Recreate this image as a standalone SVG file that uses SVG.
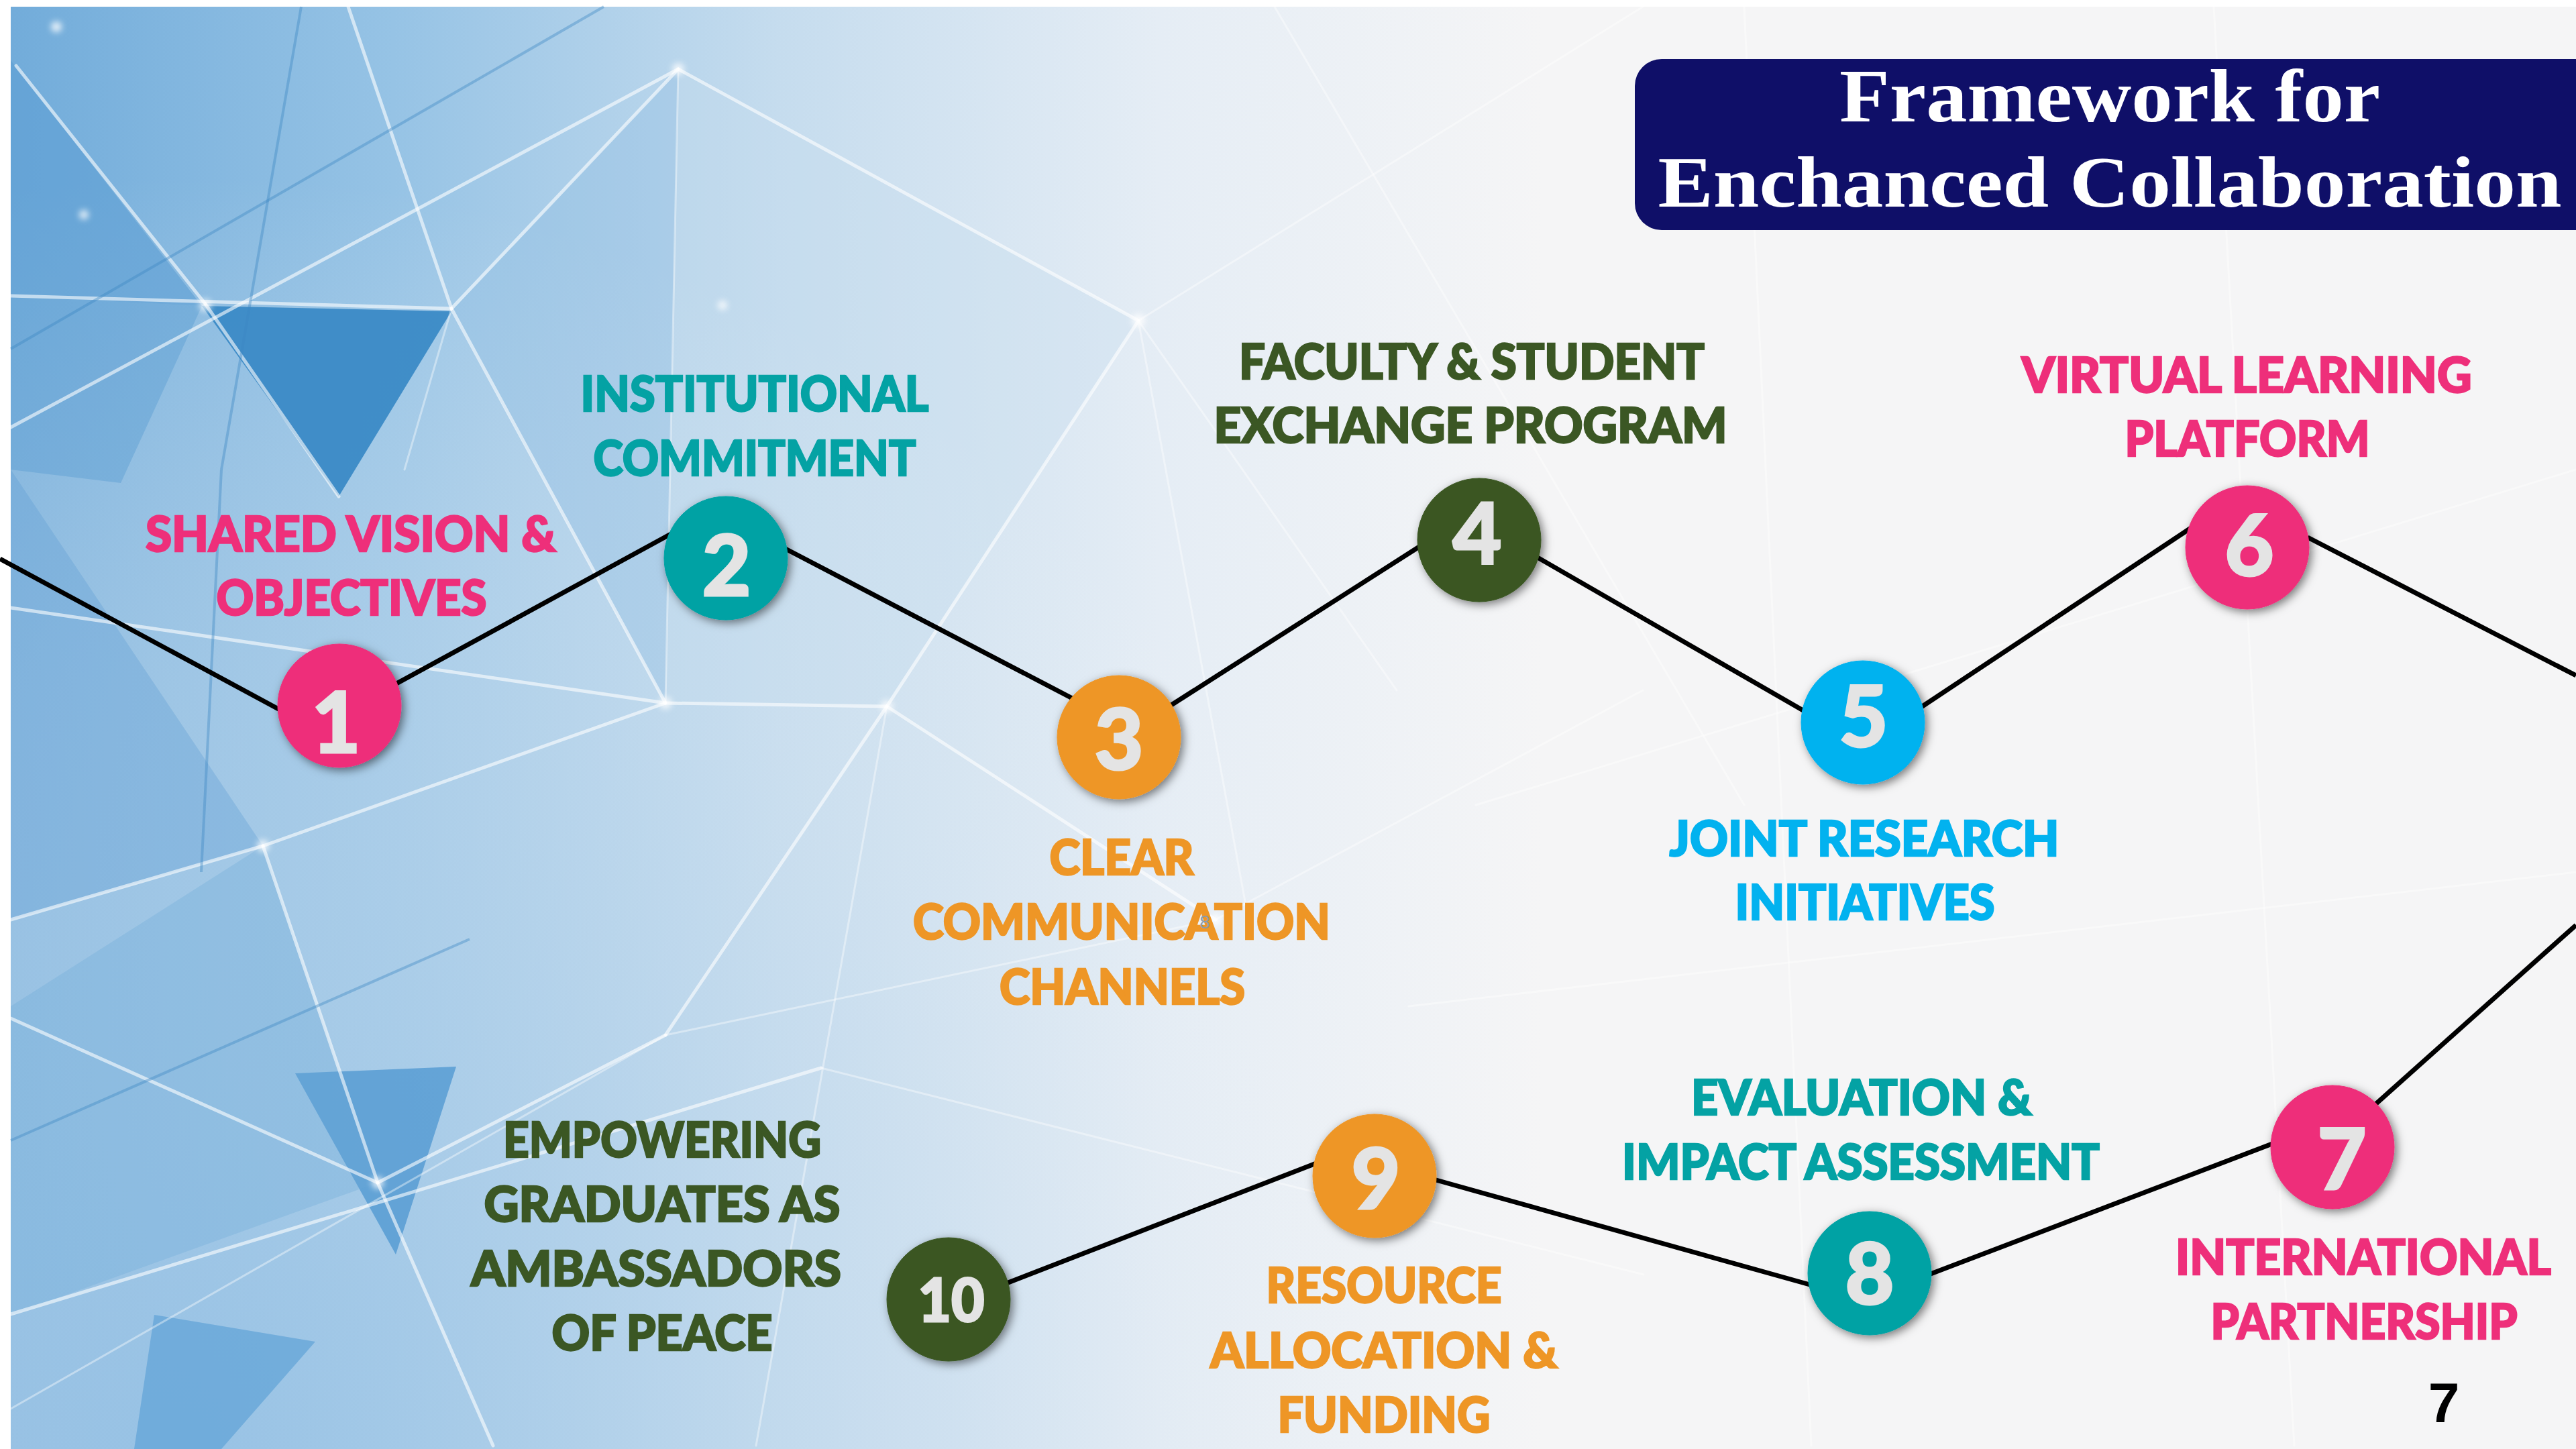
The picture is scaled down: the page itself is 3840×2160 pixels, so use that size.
<svg xmlns="http://www.w3.org/2000/svg" width="3840" height="2160" viewBox="0 0 3840 2160">
<defs>
<linearGradient id="bgH" x1="16" y1="0" x2="2300" y2="0" gradientUnits="userSpaceOnUse">
<stop offset="0" stop-color="#72ACDA"/>
<stop offset="0.25" stop-color="#96C3E5"/>
<stop offset="0.5" stop-color="#C5DCEE"/>
<stop offset="0.75" stop-color="#E5EDF5"/>
<stop offset="1" stop-color="#F5F5F6"/>
</linearGradient>
<radialGradient id="bgB" cx="300" cy="2160" r="1900" gradientUnits="userSpaceOnUse">
<stop offset="0" stop-color="#9DC5E6" stop-opacity="0.8"/>
<stop offset="0.6" stop-color="#C9DDEE" stop-opacity="0.4"/>
<stop offset="1" stop-color="#F5F5F6" stop-opacity="0"/>
</radialGradient>
<filter id="sh" x="-30%" y="-30%" width="160%" height="160%">
<feDropShadow dx="4" dy="4" stdDeviation="7" flood-color="#000" flood-opacity="0.5"/>
</filter>
<filter id="glow" x="-100%" y="-100%" width="300%" height="300%"><feGaussianBlur stdDeviation="5"/></filter>
<style>
.wl{fill:none;stroke:#fff;stroke-width:5;stroke-opacity:.6;stroke-linecap:round}
.wt{fill:none;stroke:#fff;stroke-width:3;stroke-opacity:.4;stroke-linecap:round}
.bl{fill:none;stroke:#3C87C4;stroke-width:4;stroke-opacity:.4}
.con{fill:none;stroke:#000;stroke-width:7}
.num{font-family:Lato,'Liberation Sans',sans-serif;font-weight:900;fill:#E4E4E4;stroke:#E4E4E4;stroke-width:3;text-anchor:middle;font-size:126px}
.lbl{font-family:Lato,'Liberation Sans',sans-serif;font-weight:900;font-size:72px;text-anchor:middle;stroke-width:2.5}
.title{font-family:'Liberation Serif',serif;font-weight:700;fill:#fff;text-anchor:middle}
.dot{fill:#fff;opacity:.8}
.pink{fill:#EE2F7A;stroke:#EE2F7A}.teal{fill:#04A2A4;stroke:#04A2A4}.orange{fill:#EE9626;stroke:#EE9626}.green{fill:#3B5724;stroke:#3B5724}.sky{fill:#02B2EF;stroke:#02B2EF}
</style>
</defs>

<g id="background">
<rect x="0" y="0" width="3840" height="2160" fill="#FFFFFF"/>
<rect x="16" y="10" width="3824" height="2150" fill="#F5F5F6"/>
<rect x="16" y="10" width="2300" height="2150" fill="url(#bgH)"/>
<rect x="16" y="10" width="2600" height="2150" fill="url(#bgB)"/>
<polygon points="16,90 301,456 16,442" fill="#5E9ED3" opacity="0.6"/>
<polygon points="16,442 301,456 180,720 16,700" fill="#5C9DD2" opacity="0.45"/>
<polygon points="301,456 673,464 505,740" fill="#3B8AC6" opacity="0.95"/>
<polygon points="673,464 1011,103 992,1048" fill="#8FBDE2" opacity="0.35"/>
<polygon points="16,700 392,1261 16,1371" fill="#5E9FD4" opacity="0.35"/>
<polygon points="440,1600 680,1590 590,1870" fill="#4C96D0" opacity="0.75"/>
<polygon points="230,1960 470,2000 330,2160 200,2160" fill="#5A9FD5" opacity="0.65"/>
<polygon points="16,1500 392,1261 563,1763 16,1960" fill="#6AA8D8" opacity="0.3"/>
<polygon points="1011,103 1697,478 1322,1053 992,1048" fill="#C6DCEE" opacity="0.35"/>
<line class="wl" x1="24" y1="98" x2="306" y2="453"/>
<line class="wl" x1="306" y1="453" x2="505" y2="740"/>
<line class="wl" x1="16" y1="441" x2="673" y2="460"/>
<line class="wl" x1="673" y1="460" x2="1011" y2="103"/>
<line class="wl" x1="1011" y1="103" x2="1697" y2="478"/>
<line class="wl" x1="1011" y1="103" x2="16" y2="637"/>
<line class="wt" x1="1011" y1="103" x2="992" y2="1048"/>
<line class="wl" x1="673" y1="460" x2="992" y2="1048"/>
<line class="wl" x1="992" y1="1048" x2="392" y2="1261"/>
<line class="wl" x1="392" y1="1261" x2="16" y2="1371"/>
<line class="wl" x1="392" y1="1261" x2="563" y2="1763"/>
<line class="wl" x1="563" y1="1763" x2="735" y2="2155"/>
<line class="wl" x1="16" y1="1518" x2="563" y2="1763"/>
<line class="wl" x1="992" y1="1048" x2="1322" y2="1053"/>
<line class="wl" x1="1322" y1="1053" x2="1697" y2="478"/>
<line class="wl" x1="1322" y1="1053" x2="1812" y2="1371"/>
<line class="wt" x1="1322" y1="1053" x2="1127" y2="2155"/>
<line class="wt" x1="1697" y1="478" x2="1861" y2="1371"/>
<line class="wt" x1="1812" y1="1371" x2="2449" y2="1029"/>
<line class="wt" x1="1697" y1="478" x2="2449" y2="10"/>
<line class="wt" x1="1697" y1="478" x2="2082" y2="1029"/>
<line class="wl" x1="16" y1="906" x2="992" y2="1048"/>
<line class="wl" x1="563" y1="1763" x2="992" y2="1543"/>
<line class="wl" x1="992" y1="1543" x2="1322" y2="1053"/>
<line class="wt" x1="992" y1="1543" x2="1812" y2="1371"/>
<line class="wl" x1="16" y1="1959" x2="1224" y2="1592"/>
<line class="wt" x1="1224" y1="1592" x2="2450" y2="1900"/>
<line class="wt" x1="16" y1="2100" x2="992" y2="1543"/>
<line class="bl" x1="449" y1="10" x2="330" y2="700"/>
<line class="bl" x1="330" y1="700" x2="300" y2="1300"/>
<line class="wl" x1="519" y1="10" x2="673" y2="460"/>
<line class="wt" x1="673" y1="460" x2="603" y2="700"/>
<line class="bl" x1="16" y1="520" x2="900" y2="10"/>
<line class="bl" x1="16" y1="1700" x2="700" y2="1400"/>
<line class="wt" x1="2600" y1="10" x2="2700" y2="2155"/>
<line class="wt" x1="3300" y1="10" x2="3420" y2="2155"/>
<line class="wt" x1="2200" y1="1200" x2="3840" y2="700"/>
<line class="wt" x1="2100" y1="1500" x2="3840" y2="1300"/>
<line class="wt" x1="1900" y1="10" x2="2600" y2="1200"/>
<circle class="dot" cx="306" cy="455" r="9" filter="url(#glow)"/>
<circle class="dot" cx="1011" cy="103" r="9" filter="url(#glow)"/>
<circle class="dot" cx="1697" cy="478" r="10" filter="url(#glow)"/>
<circle class="dot" cx="992" cy="1048" r="9" filter="url(#glow)"/>
<circle class="dot" cx="1322" cy="1053" r="9" filter="url(#glow)"/>
<circle class="dot" cx="563" cy="1763" r="9" filter="url(#glow)"/>
<circle class="dot" cx="392" cy="1261" r="9" filter="url(#glow)"/>
<circle class="dot" cx="1812" cy="1371" r="9" filter="url(#glow)"/>
<circle class="dot" cx="84" cy="40" r="8" filter="url(#glow)"/>
<circle class="dot" cx="125" cy="320" r="7" filter="url(#glow)"/>
<circle class="dot" cx="1077" cy="455" r="7" filter="url(#glow)"/>
</g>

<g id="title">
<path d="M2477 88 H3840 V343 H2477 A40 40 0 0 1 2437 303 V128 A40 40 0 0 1 2477 88 Z" fill="#0F0F68"/>
<text class="title" x="3145" y="181" font-size="112" textLength="806" lengthAdjust="spacingAndGlyphs">Framework for</text>
<text class="title" x="3145" y="308" font-size="108" textLength="1347" lengthAdjust="spacingAndGlyphs">Enchanced Collaboration</text>
</g>

<g id="connectors">
<line class="con" x1="0" y1="833" x2="430" y2="1065"/>
<line class="con" x1="580" y1="1025" x2="1000" y2="796"/>
<line class="con" x1="1165" y1="815" x2="1610" y2="1047"/>
<line class="con" x1="1735" y1="1058" x2="2125" y2="809"/>
<line class="con" x1="2285" y1="827" x2="2700" y2="1066"/>
<line class="con" x1="2855" y1="1060" x2="3272" y2="783"/>
<line class="con" x1="3440" y1="801" x2="3840" y2="1007"/>
<line class="con" x1="3840" y1="1379" x2="3530" y2="1656"/>
<line class="con" x1="3395" y1="1702" x2="2870" y2="1902"/>
<line class="con" x1="2705" y1="1917" x2="2130" y2="1756"/>
<line class="con" x1="1975" y1="1729" x2="1495" y2="1915"/>
</g>

<g id="node1">
<circle class="pink" cx="506" cy="1052" r="92" filter="url(#sh)"/>
<text class="num" x="501" y="1122">1</text>
<text class="lbl pink" x="523" y="822" textLength="612" lengthAdjust="spacingAndGlyphs">SHARED VISION &amp;</text>
<text class="lbl pink" x="524" y="917" textLength="403" lengthAdjust="spacingAndGlyphs">OBJECTIVES</text>
</g>

<g id="node2">
<circle class="teal" cx="1082" cy="832" r="92" filter="url(#sh)"/>
<text class="num" x="1083" y="888">2</text>
<text class="lbl teal" x="1125" y="613" textLength="519" lengthAdjust="spacingAndGlyphs">INSTITUTIONAL</text>
<text class="lbl teal" x="1125" y="709" textLength="481" lengthAdjust="spacingAndGlyphs">COMMITMENT</text>
</g>

<g id="node3">
<circle class="orange" cx="1668" cy="1099" r="92" filter="url(#sh)"/>
<text class="num" x="1668" y="1147">3</text>
<text class="lbl orange" x="1672" y="1304" textLength="215" lengthAdjust="spacingAndGlyphs">CLEAR</text>
<text class="lbl orange" x="1672" y="1400" textLength="622" lengthAdjust="spacingAndGlyphs">COMMUNICATION</text>
<text class="lbl orange" x="1673" y="1497" textLength="366" lengthAdjust="spacingAndGlyphs">CHANNELS</text>
<text x="1796" y="1384" font-family="'Liberation Sans',sans-serif" font-size="28" fill="#8C9BAA" text-anchor="middle">8</text>
</g>

<g id="node4">
<circle class="green" cx="2205" cy="805" r="92" filter="url(#sh)"/>
<text class="num" x="2202" y="841">4</text>
<text class="lbl green" x="2194" y="565" textLength="694" lengthAdjust="spacingAndGlyphs">FACULTY &amp; STUDENT</text>
<text class="lbl green" x="2192" y="660" textLength="765" lengthAdjust="spacingAndGlyphs">EXCHANGE PROGRAM</text>
</g>

<g id="node5">
<circle class="sky" cx="2777" cy="1077" r="92" filter="url(#sh)"/>
<text class="num" x="2778" y="1113">5</text>
<text class="lbl sky" x="2779" y="1276" textLength="581" lengthAdjust="spacingAndGlyphs">JOINT RESEARCH</text>
<text class="lbl sky" x="2780" y="1371" textLength="387" lengthAdjust="spacingAndGlyphs">INITIATIVES</text>
</g>

<g id="node6">
<circle class="pink" cx="3350" cy="816" r="92" filter="url(#sh)"/>
<text class="num" x="3353" y="858">6</text>
<text class="lbl pink" x="3349" y="585" textLength="671" lengthAdjust="spacingAndGlyphs">VIRTUAL LEARNING</text>
<text class="lbl pink" x="3350" y="680" textLength="365" lengthAdjust="spacingAndGlyphs">PLATFORM</text>
</g>

<g id="node7">
<circle class="pink" cx="3477" cy="1710" r="92" filter="url(#sh)"/>
<text class="num" x="3491" y="1773">7</text>
<text class="lbl pink" x="3523" y="1900" textLength="560" lengthAdjust="spacingAndGlyphs">INTERNATIONAL</text>
<text class="lbl pink" x="3524" y="1996" textLength="457" lengthAdjust="spacingAndGlyphs">PARTNERSHIP</text>
</g>

<g id="node8">
<circle class="teal" cx="2787" cy="1898" r="92" filter="url(#sh)"/>
<text class="num" x="2787" y="1944">8</text>
<text class="lbl teal" x="2775" y="1662" textLength="508" lengthAdjust="spacingAndGlyphs">EVALUATION &amp;</text>
<text class="lbl teal" x="2774" y="1758" textLength="712" lengthAdjust="spacingAndGlyphs">IMPACT ASSESSMENT</text>
</g>

<g id="node9">
<circle class="orange" cx="2049" cy="1753" r="92" filter="url(#sh)"/>
<text class="num" x="2051" y="1802">9</text>
<text class="lbl orange" x="2063" y="1942" textLength="351" lengthAdjust="spacingAndGlyphs">RESOURCE</text>
<text class="lbl orange" x="2063" y="2039" textLength="518" lengthAdjust="spacingAndGlyphs">ALLOCATION &amp;</text>
<text class="lbl orange" x="2063" y="2135" textLength="317" lengthAdjust="spacingAndGlyphs">FUNDING</text>
</g>

<g id="node10">
<circle class="green" cx="1414" cy="1937" r="92" filter="url(#sh)"/>
<text class="num" x="1418" y="1970" textLength="99" lengthAdjust="spacingAndGlyphs" style="font-size:90px">10</text>
<text class="lbl green" x="987" y="1725" textLength="474" lengthAdjust="spacingAndGlyphs">EMPOWERING</text>
<text class="lbl green" x="987" y="1821" textLength="531" lengthAdjust="spacingAndGlyphs">GRADUATES AS</text>
<text class="lbl green" x="978" y="1917" textLength="552" lengthAdjust="spacingAndGlyphs">AMBASSADORS</text>
<text class="lbl green" x="987" y="2013" textLength="329" lengthAdjust="spacingAndGlyphs">OF PEACE</text>
</g>

<g id="page-number">
<text x="3643" y="2120" font-family="'Liberation Sans',sans-serif" font-weight="700" font-size="84" fill="#000" text-anchor="middle">7</text>
</g>
</svg>
